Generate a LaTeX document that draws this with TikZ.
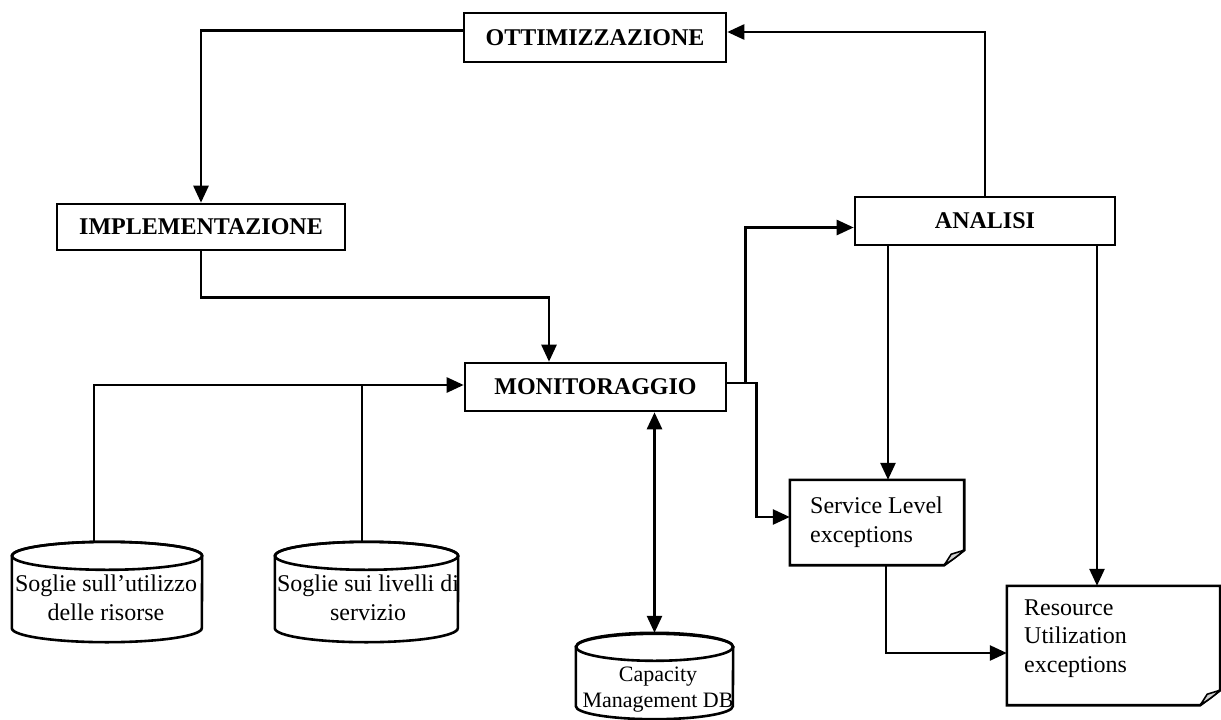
\documentclass[tikz,border=0pt]{standalone}
\usepackage{fontspec}
\setmainfont{Liberation Serif}
\usetikzlibrary{arrows.meta,calc}
\tikzset{
  ln/.style={line width=2.6pt},
  tip/.tip={Triangle[length=17pt,width=15pt]},
  arr/.style={ln, -tip},
  darr/.style={ln, tip-tip},
  box/.style={draw, line width=2.6pt, fill=white, inner sep=0pt, font=\fontsize{24}{29}\selectfont\bfseries},
  shp/.style={inner sep=0pt},
  txt/.style={font=\fontsize{24}{29}\selectfont, align=center, inner sep=0pt},
  outl/.style={line width=2.6pt, fill=white, line join=miter},
  curl/.style={line width=1.6pt, fill=gray!35, line join=round},
}
\begin{document}
\begin{tikzpicture}[x=1pt,y=-1pt]
\useasboundingbox (0,0) rectangle (1221,720);

% rectangles
\node[box, minimum width=262pt, minimum height=49pt] (ott) at (595,37.5) {OTTIMIZZAZIONE};
\node[box, minimum width=288pt, minimum height=46pt] (imp) at (201,227) {IMPLEMENTAZIONE};
\node[box, minimum width=261pt, minimum height=48pt] (mon) at (595.5,387) {MONITORAGGIO};
\node[box, minimum width=260pt, minimum height=48pt] (ana) at (985,221) {ANALISI};

% documents
\node[shp, minimum width=174pt, minimum height=85pt] (sl) at (877,522.5) {};
\draw[outl] (sl.north west) -- (sl.north east) -- ($(sl.south east)+(0pt,15pt)$) -- ($(sl.south east)+(-20pt,0pt)$) -- (sl.south west) -- cycle;
\filldraw[curl] ($(sl.south east)+(-20pt,0pt)$) -- ($(sl.south east)+(-13pt,11pt)$) -- ($(sl.south east)+(0pt,15pt)$) .. controls ($(sl.south east)+(-8pt,8pt)$) .. ($(sl.south east)+(-20pt,0pt)$) -- cycle;
\node[txt, align=left, anchor=west] (sltext) at (810,522) {Service Level\\exceptions};

\node[shp, minimum width=213pt, minimum height=119pt] (res) at (1113.5,645.5) {};
\draw[outl] (res.north west) -- (res.north east) -- ($(res.south east)+(0pt,15pt)$) -- ($(res.south east)+(-20pt,0pt)$) -- (res.south west) -- cycle;
\filldraw[curl] ($(res.south east)+(-20pt,0pt)$) -- ($(res.south east)+(-13pt,11pt)$) -- ($(res.south east)+(0pt,15pt)$) .. controls ($(res.south east)+(-8pt,8pt)$) .. ($(res.south east)+(-20pt,0pt)$) -- cycle;
\node[txt, align=left, anchor=west, font=\fontsize{24}{28.5}\selectfont] (restext) at (1024,638.5) {Resource\\Utilization\\exceptions};

% cylinders
\node[shp, minimum width=190pt, minimum height=72pt] (c1) at (107,592) {};
\draw[outl] (c1.north west) -- (c1.south west) arc[start angle=180, end angle=360, x radius=95pt, y radius=14pt] -- (c1.north east) arc[start angle=0, end angle=180, x radius=95pt, y radius=14pt] -- cycle;
\draw[ln] (c1.north) ellipse [x radius=95pt, y radius=14pt];
\node[txt] (c1text) at (106,598) {Soglie sull’utilizzo\\delle risorse};

\node[shp, minimum width=183pt, minimum height=72pt] (c2) at (366.5,592) {};
\draw[outl] (c2.north west) -- (c2.south west) arc[start angle=180, end angle=360, x radius=91.5pt, y radius=14pt] -- (c2.north east) arc[start angle=0, end angle=180, x radius=91.5pt, y radius=14pt] -- cycle;
\draw[ln] (c2.north) ellipse [x radius=91.5pt, y radius=14pt];
\node[txt] (c2text) at (368,598) {Soglie sui livelli di\\servizio};

\node[shp, minimum width=157pt, minimum height=59pt] (c3) at (654.5,676.5) {};
\draw[outl] (c3.north west) -- (c3.south west) arc[start angle=180, end angle=360, x radius=78.5pt, y radius=13pt] -- (c3.north east) arc[start angle=0, end angle=180, x radius=78.5pt, y radius=13pt] -- cycle;
\draw[ln] (c3.north) ellipse [x radius=78.5pt, y radius=14pt];
\node[txt, font=\fontsize{22}{26}\selectfont] (c3text) at (658,690) {Capacity\\Management DB};

% helper coordinates
\coordinate (c1in) at ($(c1.north)+(-13pt,14pt)$);
\coordinate (c2in) at ($(c2.north)+(-4.5pt,14pt)$);
\coordinate (c3top) at ($(c3.north)+(0pt,14pt)$);
\coordinate (inY) at ([yshift=2pt]mon.west);
\coordinate (mout) at ([yshift=4pt]mon.east);
\coordinate (a1) at ([xshift=-97pt]ana.south);
\coordinate (a2) at ([xshift=112pt]ana.south);
\coordinate (s1) at ([xshift=9pt]sl.south);

% connectors
\draw[arr] (ana.north) |- ([yshift=5.5pt]ott.east);
\draw[arr] ([yshift=7pt]ott.west) -| (imp.north);
\draw[arr] (imp.south) -- ++(0,46) -| ([xshift=-46.5pt]mon.north);
\draw[arr] (c1in) |- (inY);
\draw[ln] (c2in) -- (c2in |- inY);
\draw[arr] (mout) -- ++(18,0) |- ([yshift=-6.5pt]ana.west);
\draw[arr] (mout) -- ++(29,0) |- ([yshift=5.5pt]sl.west);
\draw[darr] (c3top |- mon.south) -- (c3top);
\draw[arr] (a1) -- (a1 |- sl.north);
\draw[arr] (a2) -- (a2 |- res.north);
\draw[arr] (s1) |- ([yshift=-7.5pt]res.west);
\end{tikzpicture}
\end{document}
